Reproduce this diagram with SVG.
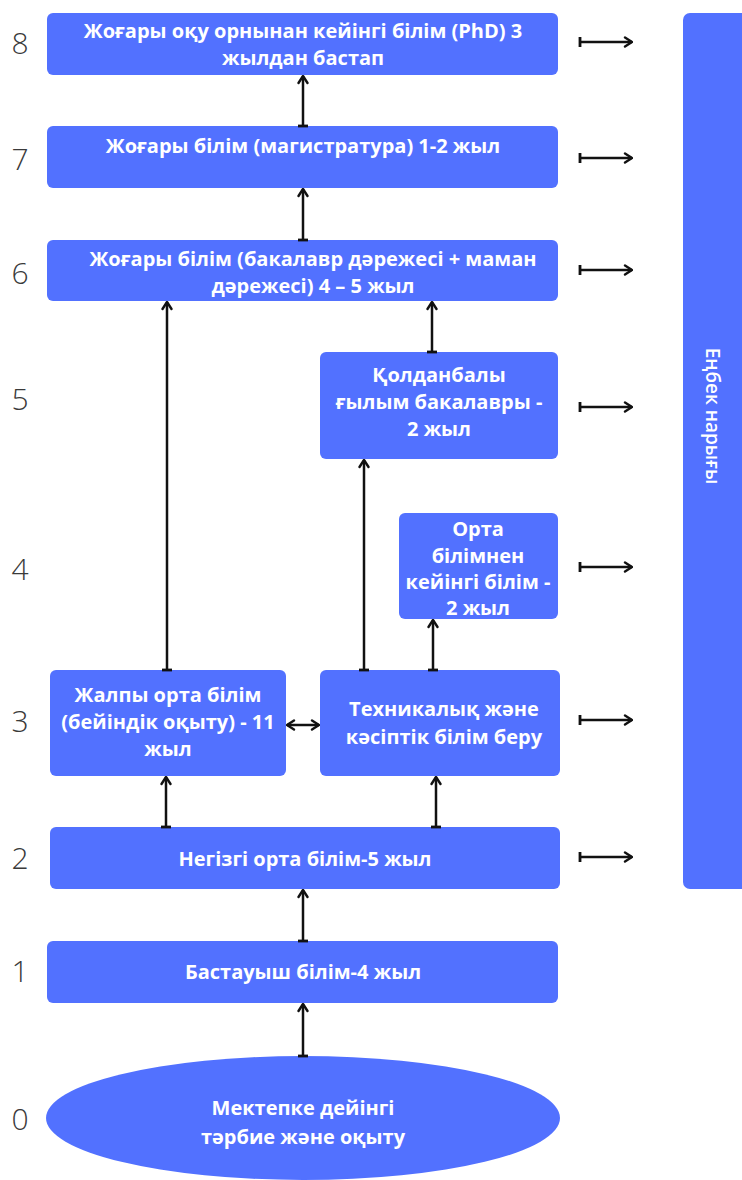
<svg xmlns="http://www.w3.org/2000/svg" width="742" height="1180" viewBox="0 0 742 1180">
  <style>
    .box { fill: #5271ff; }
    .t { font-family: "Open Sans", "Liberation Sans", sans-serif; font-weight: 700; font-size: 20px; fill: #ffffff; text-anchor: middle; dominant-baseline: central; }
    .lvl { font-family: "Open Sans", "Liberation Sans", sans-serif; font-weight: 300; font-size: 30px; fill: #3a3a3a; text-anchor: middle; dominant-baseline: central; }
    .c { stroke: #111111; stroke-width: 2.5; fill: none; marker-end: url(#head); marker-start: url(#bar); }
    .cb { stroke: #111111; stroke-width: 2.5; fill: none; marker-end: url(#head); marker-start: url(#head2); }
  </style>
  <defs>
    <marker id="head" viewBox="0 0 12 12" refX="11" refY="6" markerWidth="12" markerHeight="12" markerUnits="userSpaceOnUse" orient="auto">
      <path d="M4,1.5 L11,6 L4,10.5" fill="none" stroke="#111111" stroke-width="2.4" stroke-linecap="round" stroke-linejoin="round"/>
    </marker>
    <marker id="head2" viewBox="0 0 12 12" refX="11" refY="6" markerWidth="12" markerHeight="12" markerUnits="userSpaceOnUse" orient="auto-start-reverse">
      <path d="M4,1.5 L11,6 L4,10.5" fill="none" stroke="#111111" stroke-width="2.4" stroke-linecap="round" stroke-linejoin="round"/>
    </marker>
    <marker id="bar" viewBox="0 0 4 12" refX="2" refY="6" markerWidth="4" markerHeight="12" markerUnits="userSpaceOnUse" orient="auto">
      <line x1="2" y1="1" x2="2" y2="11" stroke="#111111" stroke-width="2.8"/>
    </marker>
  </defs>

  <!-- level numbers -->
  <g id="levels">
    <text class="lvl" x="20" y="42">8</text>
    <text class="lvl" x="20" y="158">7</text>
    <text class="lvl" x="20" y="272">6</text>
    <text class="lvl" x="20" y="398">5</text>
    <text class="lvl" x="20" y="568">4</text>
    <text class="lvl" x="20" y="720">3</text>
    <text class="lvl" x="20" y="857">2</text>
    <text class="lvl" x="20" y="970">1</text>
    <text class="lvl" x="20" y="1118">0</text>
  </g>

  <!-- labour market bar -->
  <g id="labour-market">
    <rect class="box" x="683" y="13" width="80" height="876" rx="7"/>
    <text class="t" transform="translate(713 416) rotate(90)" x="0" y="0" style="font-weight:600;font-size:19px">Еңбек нарығы</text>
  </g>

  <g id="phd">
    <rect class="box" x="47" y="13" width="511" height="62" rx="6"/>
    <text class="t" x="303" y="30">Жоғары оқу орнынан кейінгі білім (PhD) 3</text>
    <text class="t" x="303" y="57">жылдан бастап</text>
  </g>

  <g id="masters">
    <rect class="box" x="47" y="126" width="511" height="62" rx="6"/>
    <text class="t" x="303" y="145">Жоғары білім (магистратура) 1-2 жыл</text>
  </g>

  <g id="bachelor">
    <rect class="box" x="47" y="240" width="511" height="61" rx="6"/>
    <text class="t" x="313" y="258">Жоғары білім (бакалавр дәрежесі + маман</text>
    <text class="t" x="313" y="285">дәрежесі) 4 – 5 жыл</text>
  </g>

  <g id="applied-bachelor">
    <rect class="box" x="320" y="352" width="238" height="107" rx="6"/>
    <text class="t" x="439" y="374">Қолданбалы</text>
    <text class="t" x="439" y="401">ғылым бакалавры -</text>
    <text class="t" x="439" y="428">2 жыл</text>
  </g>

  <g id="post-secondary">
    <rect class="box" x="399" y="513" width="159" height="106" rx="6"/>
    <text class="t" x="478" y="528">Орта</text>
    <text class="t" x="478" y="555">білімнен</text>
    <text class="t" x="478" y="581">кейінгі білім -</text>
    <text class="t" x="478" y="607">2 жыл</text>
  </g>

  <g id="general-secondary">
    <rect class="box" x="50" y="670" width="236" height="106" rx="6"/>
    <text class="t" x="168" y="694">Жалпы орта білім</text>
    <text class="t" x="168" y="721">(бейіндік оқыту) - 11</text>
    <text class="t" x="168" y="748">жыл</text>
  </g>

  <g id="technical-vocational">
    <rect class="box" x="320" y="670" width="240" height="106" rx="6"/>
    <text class="t" x="444" y="708">Техникалық және</text>
    <text class="t" x="444" y="736">кәсіптік білім беру</text>
  </g>

  <g id="basic-secondary">
    <rect class="box" x="50" y="827" width="510" height="62" rx="6"/>
    <text class="t" x="305" y="858">Негізгі орта білім-5 жыл</text>
  </g>

  <g id="primary">
    <rect class="box" x="47" y="941" width="511" height="62" rx="6"/>
    <text class="t" x="303" y="971">Бастауыш білім-4 жыл</text>
  </g>

  <g id="preschool">
    <ellipse class="box" cx="303" cy="1118" rx="257" ry="62"/>
    <text class="t" x="303" y="1107">Мектепке дейінгі</text>
    <text class="t" x="303" y="1136">тәрбие және оқыту</text>
  </g>

  <!-- connectors -->
  <g id="connectors">
    <line class="c" x1="303" y1="126" x2="303" y2="76"/>
    <line class="c" x1="303" y1="240" x2="303" y2="189"/>
    <line class="c" x1="167" y1="670" x2="167" y2="302"/>
    <line class="c" x1="432" y1="352" x2="432" y2="302"/>
    <line class="c" x1="364" y1="670" x2="364" y2="460"/>
    <line class="c" x1="433" y1="670" x2="433" y2="620"/>
    <line class="cb" x1="287" y1="725" x2="319" y2="725"/>
    <line class="c" x1="166" y1="827" x2="166" y2="777"/>
    <line class="c" x1="436" y1="827" x2="436" y2="777"/>
    <line class="c" x1="303" y1="941" x2="303" y2="890"/>
    <line class="c" x1="303" y1="1056" x2="303" y2="1004"/>

    <line class="c" x1="580" y1="42" x2="632" y2="42"/>
    <line class="c" x1="580" y1="158" x2="632" y2="158"/>
    <line class="c" x1="580" y1="270" x2="632" y2="270"/>
    <line class="c" x1="580" y1="407" x2="632" y2="407"/>
    <line class="c" x1="580" y1="567" x2="632" y2="567"/>
    <line class="c" x1="580" y1="720" x2="632" y2="720"/>
    <line class="c" x1="580" y1="857" x2="632" y2="857"/>
  </g>
</svg>
